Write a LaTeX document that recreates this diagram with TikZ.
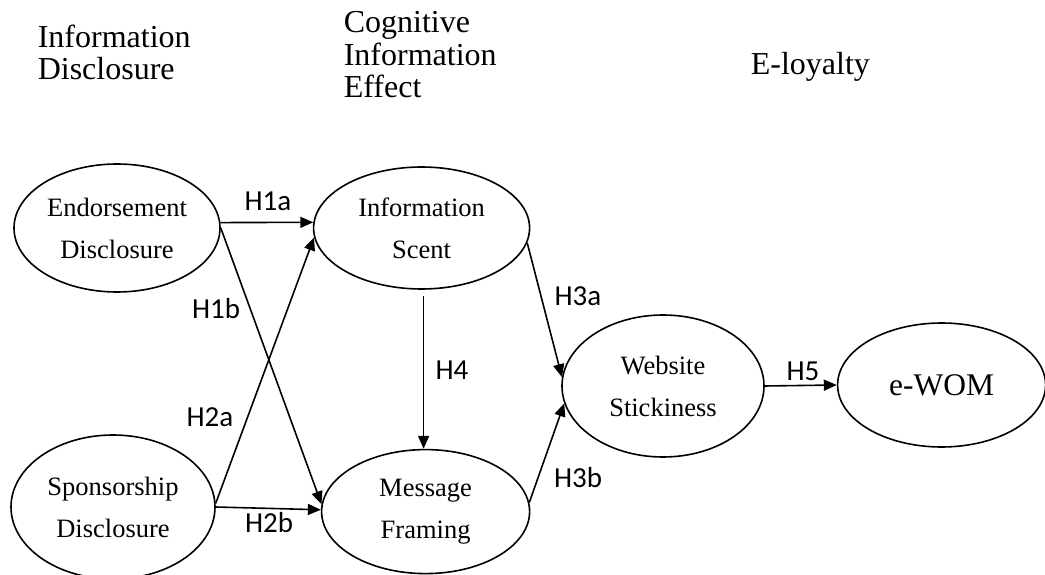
\documentclass[tikz,border=0pt]{standalone}
\usepackage{fontspec}
\setmainfont{Liberation Serif}
\newfontfamily\labfont{Carlito}
\usetikzlibrary{arrows.meta, positioning, shapes.geometric}

\begin{document}
\begin{tikzpicture}[x=1pt, y=1pt, >={Triangle[length=13pt, width=11pt]}, line width=1.6pt,
  cons/.style={draw, ellipse, inner sep=0pt, align=center, font=\fontsize{26.5}{42}\selectfont},
  head/.style={anchor=base west, inner sep=0pt, align=left, font=\fontsize{32}{32.5}\selectfont},
  hyp/.style={inner sep=0pt, font=\labfont\fontsize{29}{30}\selectfont}]
  \useasboundingbox (0,0) rectangle (1045,574);
  % column headings
  \node[head] (hinfo) at (37,494) {Information\\Disclosure};
  \node[head] (hcog) at (343,476) {Cognitive\\Information\\Effect};
  \node[head] (hloy) at (750,499) {E-loyalty};
  % constructs
  \node[cons, minimum width=206pt, minimum height=128pt] (endo) at (117,346) {Endorsement\\Disclosure};
  \node[cons, minimum width=204pt, minimum height=144pt] (spon) at (113,67) {Sponsorship\\Disclosure};
  \node[cons, minimum width=216pt, minimum height=122pt, right=92pt of endo] (scent) {Information\\Scent};
  \node[cons, minimum width=208pt, minimum height=124pt, below=159pt of scent, xshift=4pt] (frame) {Message\\Framing};
  \node[cons, minimum width=202pt, minimum height=142pt] (web) at (663,188) {Website\\Stickiness};
  \node[cons, minimum width=208pt, minimum height=124pt, right=72pt of web, yshift=1pt,
        font=\fontsize{31.5}{36}\selectfont] (ewom) {e-WOM};
  % paths
  \draw[->] (endo.3) -- (scent.177);
  \draw[->] (endo.0) -- (frame.176);
  \draw[->] (spon.2) -- (scent.185);
  \draw[->] (spon.0) -- (frame.179);
  \draw[->] (scent.-8) -- (web.175);
  \draw[->] (frame.5) -- (web.190);
  \draw[->, shorten <=6pt] ([xshift=2pt]scent.south) -- ([xshift=-2pt]frame.north);
  \draw[->] (web.east) -- (ewom.west);
  % hypotheses
  \node[hyp] (h1a) at (268,373) {H1a};
  \node[hyp] (h1b) at (216,265) {H1b};
  \node[hyp] (h2a) at (210,157) {H2a};
  \node[hyp] (h2b) at (269,51) {H2b};
  \node[hyp] (h3a) at (578,278) {H3a};
  \node[hyp] (h3b) at (578,96) {H3b};
  \node[hyp] (h4) at (452,204) {H4};
  \node[hyp] (h5) at (803,203) {H5};
\end{tikzpicture}
\end{document}
